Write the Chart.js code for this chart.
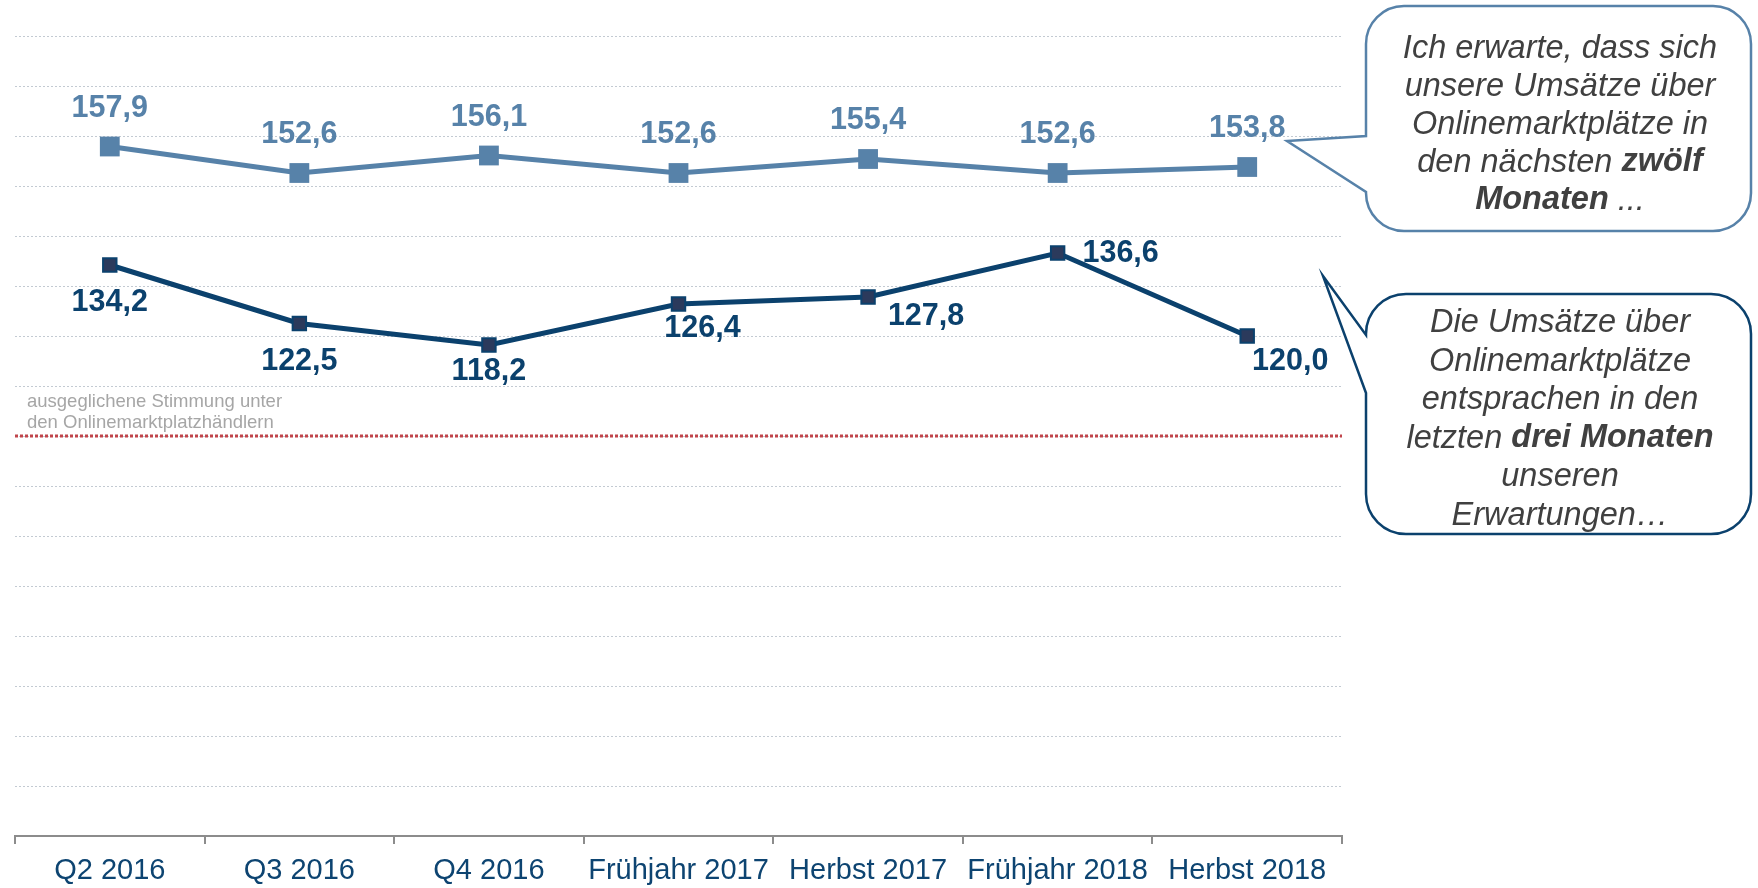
<!DOCTYPE html>
<html>
<head>
<meta charset="utf-8">
<script src="https://cdn.jsdelivr.net/npm/chart.js@4.4.1/dist/chart.umd.min.js"></script>
<style>
  html, body { margin: 0; padding: 0; background: #ffffff; }
  #wrap { width: 1758px; height: 888px; position: relative; }
</style>
</head>
<body>
<div id="wrap"><canvas id="c" width="1758" height="888"></canvas></div>
<script>
// ---------------- data ----------------
const categories = ['Q2 2016', 'Q3 2016', 'Q4 2016', 'Frühjahr 2017', 'Herbst 2017', 'Frühjahr 2018', 'Herbst 2018'];
const expectNext12 = [157.9, 152.6, 156.1, 152.6, 155.4, 152.6, 153.8];
const actualLast3 = [134.2, 122.5, 118.2, 126.4, 127.8, 136.6, 120.0];
const neutralValue = 100;
const neutralLabel = ['ausgeglichene Stimmung unter', 'den Onlinemarktplatzhändlern'];
const yMin = 20, yMax = 180, yStep = 10;

const callout1 = [
  [['Ich erwarte, dass sich', false]],
  [['unsere Umsätze über', false]],
  [['Onlinemarktplätze in', false]],
  [['den nächsten ', false], ['zwölf', true]],
  [['Monaten', true], [' ...', false]]
];
const callout2 = [
  [['Die Umsätze über', false]],
  [['Onlinemarktplätze', false]],
  [['entsprachen in den', false]],
  [['letzten ', false], ['drei Monaten', true]],
  [['unseren', false]],
  [['Erwartungen…', false]]
];

// ---------------- styles ----------------
const FONT = '"Liberation Sans", Arial, Helvetica, sans-serif';
const LIGHT = '#5782a9';
const DARK = '#0b416d';
const DARK_MARK = '#2b3a5c';
const lightLabelOffsets = [[0,-38],[0,-38],[0,-38],[0,-38],[0,-38],[0,-38],[0,-38]];
const darkLabelOffsets = [[0,38],[0,38],[0,27],[24,25],[58,20],[63,1],[43,26]];

const fmt = v => v.toFixed(1).replace('.', ',');

const labelPlugin = {
  id: 'valueLabels',
  afterDatasetsDraw(chart) {
    const ctx = chart.ctx;
    ctx.save();
    ctx.font = 'bold 30.5px ' + FONT;
    ctx.textAlign = 'center';
    ctx.textBaseline = 'middle';
    chart.data.datasets.forEach((ds, di) => {
      const meta = chart.getDatasetMeta(di);
      const offs = di === 0 ? lightLabelOffsets : darkLabelOffsets;
      ctx.fillStyle = di === 0 ? LIGHT : DARK;
      meta.data.forEach((pt, i) => {
        ctx.fillText(fmt(ds.data[i]), pt.x + offs[i][0], pt.y + offs[i][1]);
      });
    });
    ctx.restore();
  }
};

const neutralPlugin = {
  id: 'neutralLine',
  beforeDatasetsDraw(chart) {
    const ctx = chart.ctx;
    const y = chart.scales.y.getPixelForValue(neutralValue);
    const a = chart.chartArea;
    ctx.save();
    ctx.strokeStyle = '#c0454b';
    ctx.lineWidth = 3;
    ctx.setLineDash([3, 2]);
    ctx.beginPath();
    ctx.moveTo(a.left, y);
    ctx.lineTo(a.right, y);
    ctx.stroke();
    ctx.setLineDash([]);
    ctx.fillStyle = '#a6a6a6';
    ctx.font = '18.5px ' + FONT;
    ctx.textAlign = 'left';
    ctx.textBaseline = 'middle';
    ctx.fillText(neutralLabel[0], a.left + 12, y - 34);
    ctx.fillText(neutralLabel[1], a.left + 12, y - 13);
    ctx.restore();
  }
};

function calloutPath(ctx, b) {
  const { x0, y0, x1, y1, r, ya, yb, tx, ty } = b;
  ctx.beginPath();
  ctx.moveTo(x0 + r, y0);
  ctx.lineTo(x1 - r, y0);
  ctx.arcTo(x1, y0, x1, y0 + r, r);
  ctx.lineTo(x1, y1 - r);
  ctx.arcTo(x1, y1, x1 - r, y1, r);
  ctx.lineTo(x0 + r, y1);
  ctx.arcTo(x0, y1, x0, y1 - r, r);
  ctx.lineTo(x0, yb);
  ctx.lineTo(tx, ty);
  ctx.lineTo(x0, ya);
  ctx.lineTo(x0, y0 + r);
  ctx.arcTo(x0, y0, x0 + r, y0, r);
  ctx.closePath();
}

function drawLines(ctx, lines, cx, firstY, step) {
  const size = 32.5;
  lines.forEach((segs, li) => {
    let total = 0;
    const widths = segs.map(([t, b]) => {
      ctx.font = 'italic ' + (b ? 'bold ' : '') + size + 'px ' + FONT;
      const w = ctx.measureText(t).width;
      total += w;
      return w;
    });
    let x = cx - total / 2;
    const y = firstY + li * step;
    segs.forEach(([t, b], si) => {
      ctx.font = 'italic ' + (b ? 'bold ' : '') + size + 'px ' + FONT;
      ctx.fillText(t, x, y);
      x += widths[si];
    });
  });
}

const calloutPlugin = {
  id: 'callouts',
  afterDraw(chart) {
    const ctx = chart.ctx;
    ctx.save();
    ctx.lineWidth = 2.5;
    ctx.fillStyle = '#ffffff';
    const b1 = { x0: 1366, y0: 6, x1: 1751, y1: 231, r: 38, ya: 136, yb: 192, tx: 1287, ty: 141 };
    calloutPath(ctx, b1);
    ctx.fill();
    ctx.strokeStyle = LIGHT;
    ctx.stroke();
    const b2 = { x0: 1366, y0: 294, x1: 1751, y1: 534, r: 40, ya: 335, yb: 393, tx: 1323, ty: 276 };
    ctx.fillStyle = '#ffffff';
    calloutPath(ctx, b2);
    ctx.fill();
    ctx.strokeStyle = DARK;
    ctx.stroke();

    ctx.fillStyle = '#404040';
    ctx.textAlign = 'left';
    ctx.textBaseline = 'middle';
    drawLines(ctx, callout1, 1560, 48.5, 38);
    drawLines(ctx, callout2, 1560, 323, 38.5);
    ctx.restore();
  }
};

new Chart(document.getElementById('c'), {
  type: 'line',
  data: {
    labels: categories,
    datasets: [
      {
        data: expectNext12,
        borderColor: LIGHT,
        backgroundColor: LIGHT,
        borderWidth: 5,
        pointStyle: 'rect',
        pointRadius: 14,
        pointBorderWidth: 0,
        pointBackgroundColor: LIGHT,
        tension: 0,
        fill: false
      },
      {
        data: actualLast3,
        borderColor: DARK,
        backgroundColor: DARK_MARK,
        borderWidth: 5,
        pointStyle: 'rect',
        pointRadius: 9.5,
        pointBorderWidth: 2,
        pointBorderColor: DARK,
        pointBackgroundColor: DARK_MARK,
        tension: 0,
        fill: false
      }
    ]
  },
  options: {
    responsive: false,
    animation: false,
    devicePixelRatio: 1,
    layout: { padding: { left: 15, right: 416, top: 36, bottom: 0 } },
    plugins: { legend: { display: false }, tooltip: { enabled: false } },
    scales: {
      x: {
        type: 'category',
        offset: true,
        afterFit(s) { s.height = 52; },
        grid: {
          offset: true,
          drawOnChartArea: false,
          drawTicks: true,
          tickLength: 8,
          color: '#8c8c8c',
          lineWidth: 2
        },
        border: { display: true, color: '#8c8c8c', width: 2 },
        ticks: {
          color: '#0d4471',
          padding: 10,
          font: { family: FONT, size: 29 },
          maxRotation: 0,
          autoSkip: false
        }
      },
      y: {
        min: yMin,
        max: yMax,
        afterFit(s) { s.width = 0; },
        ticks: { display: false, stepSize: yStep },
        grid: { drawTicks: false, color: '#c3cad2', lineWidth: 1 },
        border: { display: false, dash: [2, 2] }
      }
    }
  },
  plugins: [neutralPlugin, labelPlugin, calloutPlugin]
});
</script>
</body>
</html>
